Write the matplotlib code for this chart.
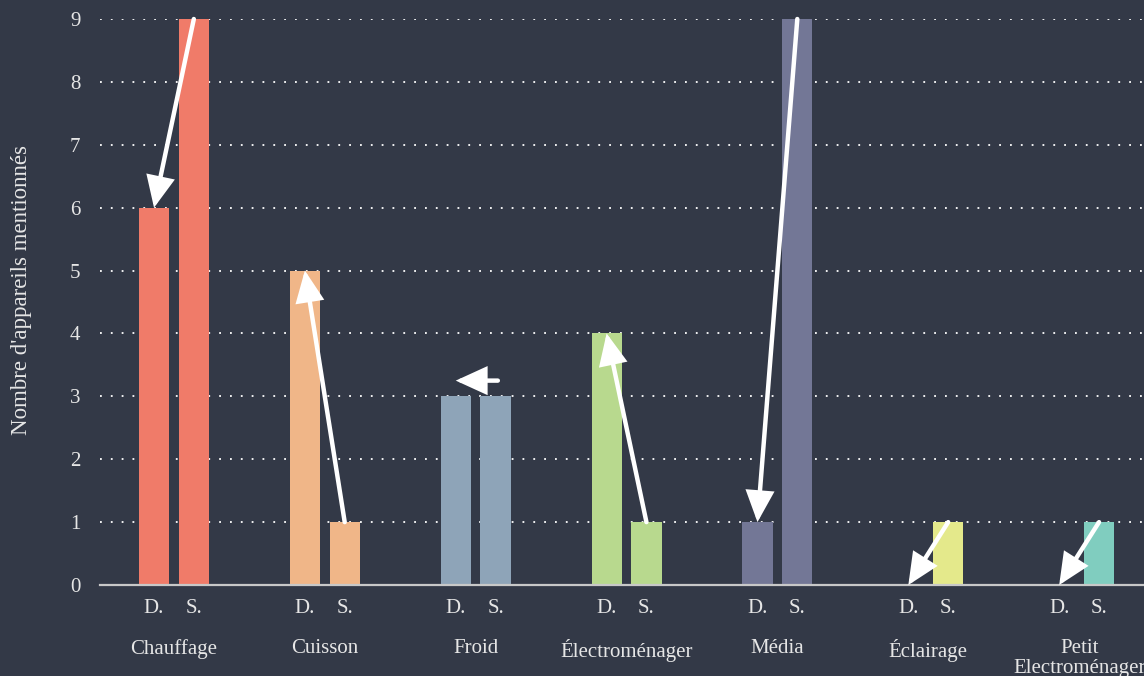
"""Paired bar chart D. vs S. per appliance category, with arrows S -> D."""
import matplotlib
matplotlib.use("Agg")
import matplotlib.pyplot as plt
from matplotlib.transforms import offset_copy

categories = ["Chauffage", "Cuisson", "Froid", "Électroménager", "Média",
              "Éclairage", "Petit\nElectroménager"]
d_vals = [6, 5, 3, 4, 1, 0, 0]
s_vals = [9, 1, 3, 1, 9, 1, 1]
colors = ["#f07b69", "#f0b688", "#8ea4b8", "#b8d98e", "#737796", "#e4e98b", "#80cdbf"]
sub_labels = ["D.", "S."]
y_label = "Nombre d'appareils mentionnés"

BG = "#333947"
FG = "#e6e6e6"
plt.rcParams.update({"font.family": ["Liberation Serif", "DejaVu Serif"],
                     "font.size": 15})

fig = plt.figure(figsize=(11.44, 6.76), dpi=100, facecolor=BG)
ax = fig.add_axes([100 / 1144, 91 / 676, 1 - 100 / 1144, 566 / 676], facecolor=BG)

off, w = 0.132, 0.2
xs = list(range(len(categories)))
xd = [x - off for x in xs]
xsb = [x + off for x in xs]
ax.bar(xd, d_vals, width=w, color=colors, zorder=2)
ax.bar(xsb, s_vals, width=w, color=colors, zorder=2)

# arrows from S. to D. (equal values: short horizontal arrow above the bars)
for a, b, dv, sv in zip(xsb, xd, d_vals, s_vals):
    if dv == sv:
        ya = yb = sv + 0.25
        a += 0.015
    else:
        ya, yb = sv, dv
    ann = ax.annotate("", xy=(b, yb), xytext=(a, ya),
                      arrowprops=dict(arrowstyle="-|>,head_length=0.7,head_width=0.32",
                                      color="white", lw=3.2, mutation_scale=25,
                                      shrinkA=0, shrinkB=0, capstyle="round",
                                      joinstyle="miter"),
                      zorder=5, annotation_clip=False)
    ann.arrow_patch.set_clip_on(False)

ax.set_xlim(-0.49, 6.43)
ax.set_ylim(0, 9)
ax.set_yticks(range(10))
ax.set_yticklabels([str(i) for i in range(10)])
for y in range(1, 10):
    ax.axhline(y, color="white", lw=1.3, ls=(0, (1, 5)), zorder=1)
ax.axhline(0, color="#c8c8c8", lw=1.6, zorder=3, clip_on=False)

for s in ax.spines.values():
    s.set_visible(False)
ax.tick_params(axis="y", length=0, pad=14, colors=FG, labelsize=15)
ax.tick_params(axis="x", length=0, pad=10, colors=FG, labelsize=15)

pos = []
labs = []
for a, b in zip(xd, xsb):
    pos += [a, b]
    labs += sub_labels
ax.set_xticks(pos)
ax.set_xticklabels(labs)

tr = offset_copy(ax.get_xaxis_transform(), fig=fig, x=0, y=-54, units="dots")
for x, c in zip(xs, categories):
    ax.text(x, 0, c, transform=tr, ha="center", va="top", color=FG,
            fontsize=15, linespacing=1.1)

fig.text(22 / 1144, 1 - 290 / 676, y_label, rotation=90, ha="center", va="center",
         color=FG, fontsize=16.5)

fig.savefig("out.png", dpi=100, facecolor=BG)
